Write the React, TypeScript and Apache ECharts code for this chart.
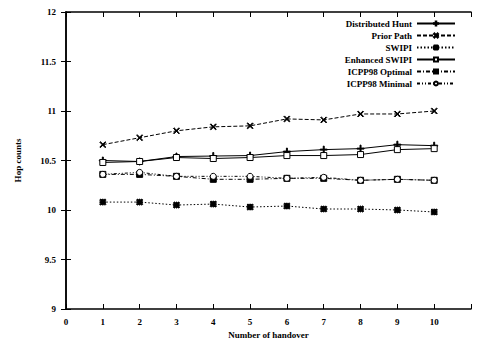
import React, { useEffect, useRef } from "react";
import * as echarts from "echarts";

const handovers = [1, 2, 3, 4, 5, 6, 7, 8, 9, 10];
const distributedHunt = [10.5, 10.49, 10.54, 10.545, 10.55, 10.59, 10.61, 10.62, 10.66, 10.65];
const priorPath = [10.66, 10.73, 10.8, 10.84, 10.85, 10.92, 10.91, 10.97, 10.97, 11.0];
const swipi = [10.08, 10.08, 10.05, 10.06, 10.03, 10.04, 10.01, 10.01, 10.0, 9.98];
const enhancedSwipi = [10.48, 10.49, 10.53, 10.52, 10.53, 10.55, 10.55, 10.56, 10.61, 10.62];
const icppOptimal = [10.36, 10.36, 10.34, 10.31, 10.31, 10.32, 10.32, 10.3, 10.31, 10.3];
const icppMinimal = [10.36, 10.38, 10.34, 10.34, 10.34, 10.32, 10.33, 10.3, 10.31, 10.3];
const seriesNames = [
  "Distributed Hunt",
  "Prior Path",
  "SWIPI",
  "Enhanced SWIPI",
  "ICPP98 Optimal",
  "ICPP98 Minimal",
];

const FONT = "Liberation Serif";

const plusPath = "path://M4.3,0H5.7V10H4.3ZM0,4.3H10V5.7H0Z";
const xPath = "path://M0,1L1,0L10,9L9,10ZM9,0L10,1L1,10L0,9Z";
const starPath =
  "path://M4.3,0H5.7V10H4.3ZM0,4.3H10V5.7H0ZM1,0L2,0L10,8L10,9L9,10L8,10L0,2ZM8,0L9,0L10,1L10,2L2,10L1,10L0,9L0,8Z";

export default function App() {
  const ref = useRef<HTMLDivElement>(null);
  useEffect(() => {
    if (!ref.current) return;
    const chart = echarts.init(ref.current, null, { renderer: "svg" });
    const mk = (name: string, data: number[], type: any, symbol: string, size: number, fill: string) => ({
      name,
      type: "line",
      data: handovers.map((h, i) => [h, data[i]]),
      symbol,
      symbolSize: size,
      showAllSymbol: true,
      lineStyle: { color: "#000", width: 1, type },
      itemStyle: { color: fill, borderColor: "#000", borderWidth: 1 },
      emphasis: { disabled: true },
    });
    const axisCommon = {
      axisLine: { show: true, lineStyle: { color: "#000", width: 1.5 } },
      splitLine: { show: false },
    };
    chart.setOption({
      animation: false,
      textStyle: { fontFamily: FONT },
      grid: { left: 66, right: 10, top: 12, bottom: 36, containLabel: false },
      legend: {
        orient: "vertical",
        align: "right",
        right: 20,
        top: 14,
        itemWidth: 38,
        itemHeight: 5,
        itemGap: 3,
        data: seriesNames,
        textStyle: { fontFamily: FONT, fontSize: 9, fontWeight: "bold", color: "#000" },
      },
      xAxis: [
        {
          type: "value",
          min: 0,
          max: 11,
          interval: 1,
          name: "Number of handover",
          nameLocation: "middle",
          nameGap: 18,
          nameTextStyle: { fontFamily: FONT, fontSize: 9, fontWeight: "bold", color: "#000" },
          ...axisCommon,
          axisTick: { show: true, inside: true, length: 5, lineStyle: { color: "#000" } },
          axisLabel: {
            fontFamily: FONT,
            fontSize: 9,
            fontWeight: "bold",
            color: "#000",
            margin: 8,
            formatter: (v: number) => (v === 11 ? "" : String(v)),
          },
        },
        {
          type: "value",
          position: "top",
          min: 0,
          max: 11,
          interval: 1,
          ...axisCommon,
          axisTick: { show: true, inside: true, length: 5, lineStyle: { color: "#000" } },
          axisLabel: { show: false },
        },
      ],
      yAxis: [
        {
          type: "value",
          min: 9,
          max: 12,
          interval: 0.5,
          name: "Hop counts",
          nameLocation: "middle",
          nameGap: 44,
          nameTextStyle: { fontFamily: FONT, fontSize: 9, fontWeight: "bold", color: "#000" },
          ...axisCommon,
          axisTick: { show: true, inside: true, length: 5, lineStyle: { color: "#000" } },
          axisLabel: { fontFamily: FONT, fontSize: 9, fontWeight: "bold", color: "#000", margin: 10 },
        },
        {
          type: "value",
          position: "right",
          min: 9,
          max: 12,
          interval: 0.5,
          ...axisCommon,
          axisTick: { show: true, inside: true, length: 5, lineStyle: { color: "#000" } },
          axisLabel: { show: false },
        },
      ],
      series: [
        mk(seriesNames[0], distributedHunt, "solid", plusPath, 7, "#000"),
        mk(seriesNames[1], priorPath, [4, 2], xPath, 6, "#000"),
        mk(seriesNames[2], swipi, [1.5, 2], starPath, 6, "#000"),
        mk(seriesNames[3], enhancedSwipi, "solid", "rect", 6, "#fff"),
        mk(seriesNames[4], icppOptimal, [4, 2, 1, 2], "rect", 6, "#000"),
        mk(seriesNames[5], icppMinimal, [3, 2, 1, 2, 1, 2], "circle", 6, "#fff"),
      ],
    });
    return () => chart.dispose();
  }, []);
  return <div ref={ref} style={{ width: 481, height: 345, position: "absolute", left: 0, top: 0 }} />;
}
